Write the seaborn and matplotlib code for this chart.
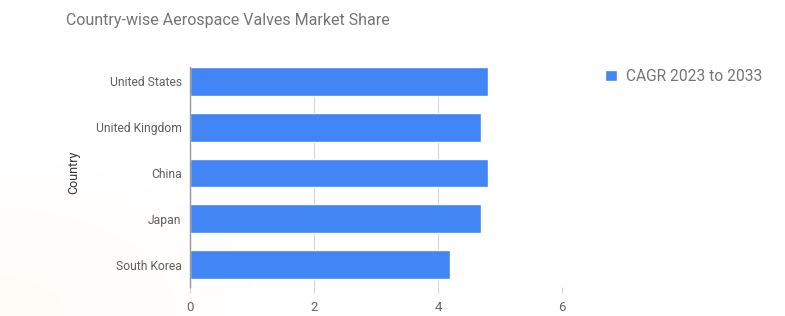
import numpy as np
import pandas as pd
import matplotlib
matplotlib.use("Agg")
import matplotlib.pyplot as plt
import seaborn as sns

countries = ["United States", "United Kingdom", "China", "Japan", "South Korea"]
cagr = [4.8, 4.7, 4.8, 4.7, 4.2]
series_name = "CAGR 2023 to 2033"
title = "Country-wise Aerospace Valves Market Share"
x_label = "CAGR 2023 to 2033 (%)"
y_label = "Country"
x_ticks = [0, 2, 4, 6]

df = pd.DataFrame({"Country": countries, "Value": cagr})

sns.set_theme(style="white")
plt.rcParams["font.family"] = ["Roboto", "DejaVu Sans"]

W, H = 785, 316
fig = plt.figure(figsize=(W / 100, H / 100), dpi=100)
fig.patch.set_facecolor("white")

# faint warm gradient in bottom-left corner
bg = fig.add_axes([0, 0, 1, 1], zorder=-10)
yy, xx = np.mgrid[0:H, 0:W]
d = np.sqrt(((xx - 0) / 260.0) ** 2 + ((yy - H) / 160.0) ** 2)
a = np.clip(1 - d, 0, 1) * 0.45
img = np.ones((H, W, 4))
img[..., 0] = 1.0
img[..., 1] = 0.975
img[..., 2] = 0.93
img[..., 3] = a
bg.imshow(img[::-1], extent=[0, 1, 0, 1], origin="lower", aspect="auto")
bg.axis("off")

ax = fig.add_axes([190 / W, 1 - 287 / H, (562 - 190) / W, (287 - 67) / H])
ax.set_facecolor("none")
sns.barplot(data=df, y="Country", x="Value", orient="h", color="#4285F4",
            width=0.63, saturation=1, ax=ax, label=series_name, zorder=3)

ax.set_xlim(0, 6)
ax.set_ylim(4.49, -0.315)
ax.set_xticks(x_ticks)
ax.set_xticklabels([str(t) for t in x_ticks])
ax.grid(axis="x", color="#d6d6d6", linewidth=0.8, zorder=0)
ax.set_axisbelow(True)
for s in ["top", "right", "bottom"]:
    ax.spines[s].set_visible(False)
ax.spines["left"].set_color("#999999")
ax.spines["left"].set_linewidth(1.0)
ax.spines["left"].set_zorder(4)

ax.tick_params(axis="x", length=4, width=0.8, color="#d6d6d6", pad=6,
               labelsize=9.5, labelcolor="#666666", bottom=True)
ax.tick_params(axis="y", length=0, pad=6, labelsize=8.7, labelcolor="#5f5f5f")

ax.set_ylabel(y_label, fontsize=9, color="#333333")
ax.yaxis.set_label_coords(80 / W, 1 - 172 / H, transform=fig.transFigure)
ax.set_xlabel(x_label, fontsize=9, color="#555555")
ax.xaxis.set_label_coords(415 / W, 1 - 321 / H, transform=fig.transFigure)

fig.text(66 / W, 1 - 20 / H, title, fontsize=11.5, color="#757575",
         ha="left", va="center")

leg = ax.legend(loc="upper left", bbox_to_anchor=(599 / W, 1 - 63 / H),
                bbox_transform=fig.transFigure, frameon=False,
                handlelength=0.75, handleheight=0.75, handletextpad=0.6,
                fontsize=11.2, borderaxespad=0)
for t in leg.get_texts():
    t.set_color("#757575")

fig.savefig("out.png", dpi=100)
